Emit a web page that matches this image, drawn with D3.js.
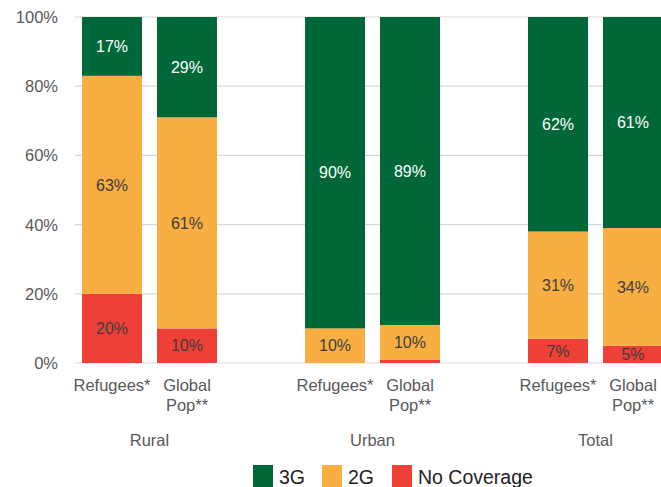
<!DOCTYPE html>
<html>
<head>
<meta charset="utf-8">
<script src="https://cdn.jsdelivr.net/npm/d3@7"></script>
<style>
  html, body { margin: 0; padding: 0; background: #fff; }
  svg { display: block; font-family: "Liberation Sans", Arial, Helvetica, sans-serif; }
</style>
</head>
<body>
<svg id="chart" width="661" height="487"></svg>
<script>
const groups = ["Rural", "Urban", "Total"];
const populations = ["Refugees*", "Global Pop**"];
const seriesNames = ["No Coverage", "2G", "3G"];
// values per group, per population: [No Coverage, 2G, 3G]
const noCoverage = [[20, 10], [0, 1], [7, 5]];
const coverage2G = [[63, 61], [10, 10], [31, 34]];
const coverage3G = [[17, 29], [90, 89], [62, 61]];
const yTicks = [0, 20, 40, 60, 80, 100];
const legendOrder = ["3G", "2G", "No Coverage"];

const colors = { "3G": "#006838", "2G": "#F9AE42", "No Coverage": "#EE4036" };
const labelColors = { "3G": "#ffffff", "2G": "#3d3d3d", "No Coverage": "#3d3d3d" };

const svg = d3.select("#chart");

const y = d3.scaleLinear().domain([0, 100]).range([363, 17]);
const x0 = d3.scaleBand().domain(groups).range([38, 707]).padding(0);
const x1 = d3.scaleBand().domain(populations).range([0, x0.bandwidth()])
  .paddingInner(0.2).paddingOuter(0.587);

// gridlines
svg.append("g").selectAll("line").data(yTicks).join("line")
  .attr("x1", 75).attr("x2", 661)
  .attr("y1", d => y(d)).attr("y2", d => y(d))
  .attr("stroke", "#d9d9d9").attr("stroke-width", 1.2);

// y axis labels
svg.append("g").selectAll("text").data(yTicks).join("text")
  .attr("x", 58).attr("y", d => y(d)).attr("dy", "0.36em")
  .attr("text-anchor", "end").attr("font-size", 16.5).attr("fill", "#595959")
  .text(d => d + "%");

// build data
const rows = [];
groups.forEach((g, gi) => {
  populations.forEach((p, pi) => {
    const vals = { "No Coverage": noCoverage[gi][pi], "2G": coverage2G[gi][pi], "3G": coverage3G[gi][pi] };
    let acc = 0;
    seriesNames.forEach(s => {
      rows.push({ group: g, pop: p, series: s, y0: acc, y1: acc + vals[s], v: vals[s] });
      acc += vals[s];
    });
  });
});

const bars = svg.append("g");
bars.selectAll("rect").data(rows.filter(d => d.v > 0)).join("rect")
  .attr("x", d => x0(d.group) + x1(d.pop))
  .attr("width", x1.bandwidth())
  .attr("y", d => y(d.y1))
  .attr("height", d => y(d.y0) - y(d.y1))
  .attr("fill", d => colors[d.series]);

bars.selectAll("text").data(rows.filter(d => d.v >= 3)).join("text")
  .attr("x", d => x0(d.group) + x1(d.pop) + x1.bandwidth() / 2)
  .attr("y", d => (y(d.y0) + y(d.y1)) / 2)
  .attr("dy", "0.36em")
  .attr("text-anchor", "middle").attr("font-size", 16)
  .attr("fill", d => labelColors[d.series])
  .text(d => d.v + "%");

// category labels
const cat = svg.append("g");
groups.forEach(g => {
  populations.forEach(p => {
    const cx = x0(g) + x1(p) + x1.bandwidth() / 2;
    const words = p === "Global Pop**" ? ["Global", "Pop**"] : [p];
    words.forEach((w, i) => {
      cat.append("text").attr("x", cx).attr("y", 391 + i * 20)
        .attr("text-anchor", "middle").attr("font-size", 16.5).attr("fill", "#595959")
        .text(w);
    });
  });
  cat.append("text").attr("x", x0(g) + x0.bandwidth() / 2).attr("y", 446)
    .attr("text-anchor", "middle").attr("font-size", 16.5).attr("fill", "#595959")
    .text(g);
});

// legend
const legendX = [253, 322, 392];
const leg = svg.append("g");
legendOrder.forEach((s, i) => {
  leg.append("rect").attr("x", legendX[i]).attr("y", 465).attr("width", 20).attr("height", 22)
    .attr("fill", colors[s]);
  leg.append("text").attr("x", legendX[i] + 26).attr("y", 484)
    .attr("font-size", 19.5).attr("fill", "#222").text(s);
});
</script>
</body>
</html>
